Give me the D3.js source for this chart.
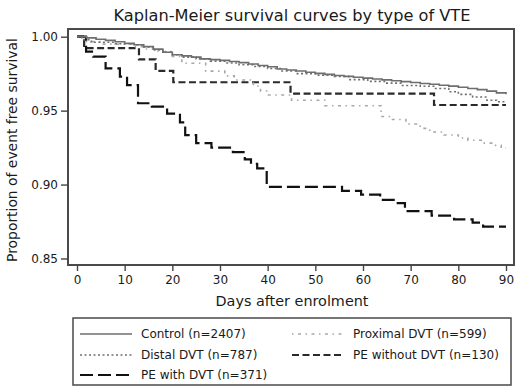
<!DOCTYPE html>
<html><head><meta charset="utf-8">
<script src="https://cdn.jsdelivr.net/npm/d3@7"></script>
<style>
body{margin:0;background:#fff;}
text{font-family:"DejaVu Sans",sans-serif;fill:#1a1a1a;}
</style></head>
<body><svg id="c" width="520" height="392"></svg>
<script>
const title = "Kaplan-Meier survival curves by type of VTE";
const xLabel = "Days after enrolment";
const yLabel = "Proportion of event free survival";
const xTicks = [0,10,20,30,40,50,60,70,80,90];
const yTicks = [0.85,0.90,0.95,1.00];

const controlDays = [0,2,4,6,8,10,12,14,16,18,20,22,24,26,28,30,32,34,36,38,40,42,44,46,48,50,52,54,56,58,60,62,64,66,68,70,72,74,76,78,80,82,84,86,88,90];
const controlSurv = [1,0.9992,0.9983,0.9975,0.9966,0.9955,0.9946,0.9933,0.9916,0.9895,0.9878,0.9870,0.9862,0.9850,0.9845,0.9840,0.9832,0.9825,0.9815,0.9805,0.9797,0.9782,0.9775,0.9768,0.9760,0.9752,0.9745,0.9738,0.9732,0.9726,0.9720,0.9714,0.9708,0.9702,0.9696,0.9690,0.9684,0.9678,0.9672,0.9666,0.9658,0.9650,0.9642,0.9632,0.9620,0.9610];

const distalDays = [0,1,3,8,12,14,16,18,20,22,25,28,31,34,37,40,43,46,50,54,57,61,65,68,72,75,78,80,83,86,88,90];
const distalSurv = [1,0.998,0.9962,0.9952,0.9945,0.993,0.991,0.9895,0.9878,0.9862,0.985,0.9835,0.9822,0.981,0.9798,0.9785,0.9768,0.975,0.974,0.9732,0.971,0.9698,0.9686,0.967,0.9665,0.965,0.9628,0.961,0.9592,0.957,0.956,0.956];

const proxDays = [0,2,5,12,14,17,20,22,27,31,33,37,38.5,39.8,45,52,63.8,66,69,72,74,77,80,82,85,87,89,90];
const proxSurv = [1,0.9967,0.995,0.9933,0.9917,0.99,0.9867,0.982,0.9767,0.9735,0.9707,0.9667,0.9633,0.9606,0.957,0.9533,0.946,0.944,0.941,0.938,0.9355,0.9335,0.9315,0.930,0.928,0.9265,0.9247,0.9247];

const peNoDays = [0,1.5,13,16.5,20.2,44.8,74.9,90];
const peNoSurv = [1,0.9923,0.9846,0.9769,0.9692,0.9615,0.9538,0.9538];

const peDvtDays = [0,1.9,3.4,6.0,9.0,10.5,12.8,15.7,18.9,21.6,22.7,25.0,28.2,32.7,35.2,36.5,37.8,39.8,55.6,59.6,63.6,66.7,68.8,74.4,79.1,83.0,85.2,90];
const peDvtSurv = [1,0.9899,0.9865,0.9786,0.9730,0.9673,0.9550,0.9527,0.9480,0.9420,0.9335,0.9280,0.9250,0.9220,0.9170,0.9140,0.9110,0.8985,0.8958,0.8932,0.8896,0.8875,0.8820,0.8790,0.8765,0.8742,0.8715,0.8715];

const seriesNames = ["Control (n=2407)","Distal DVT (n=787)","PE with DVT (n=371)","Proximal DVT (n=599)","PE without DVT (n=130)"];

const series = [
  {name:seriesNames[0], days:controlDays, surv:controlSurv, color:"#6e6e6e", width:1.6, dash:null, col:0,row:0},
  {name:seriesNames[1], days:distalDays, surv:distalSurv, color:"#707070", width:1.6, dash:"2,2.5", col:0,row:1},
  {name:seriesNames[2], days:peDvtDays, surv:peDvtSurv, color:"#111", width:2.2, dash:"13,5", col:0,row:2},
  {name:seriesNames[3], days:proxDays, surv:proxSurv, color:"#a8a8a8", width:1.6, dash:"1.5,4.5,3,4.5", col:1,row:0},
  {name:seriesNames[4], days:peNoDays, surv:peNoSurv, color:"#2a2a2a", width:2.2, dash:"7,3.5", col:1,row:1}
];

const svg = d3.select("#c");
const plot = {left:68, right:514, top:29, bottom:265};
const x = d3.scaleLinear().domain([0,90]).range([77,506]);
const y = d3.scaleLinear().domain([0.85,1.0]).range([258.5,36.7]);

function fitText(sel, target, base){
  sel.style("font-size", base+"px");
  const w = sel.node().getComputedTextLength();
  sel.style("font-size", (base*target/w).toFixed(2)+"px");
}

const t = svg.append("text").attr("x",292).attr("y",21).attr("text-anchor","middle").text(title);
fitText(t, 357, 15);

const clip = svg.append("clipPath").attr("id","pc").append("rect")
  .attr("x",plot.left).attr("y",plot.top).attr("width",plot.right-plot.left).attr("height",plot.bottom-plot.top);

const line = d3.line().curve(d3.curveStepAfter).x(d=>x(d[0])).y(d=>y(d[1]));
const g = svg.append("g").attr("clip-path","url(#pc)");
series.slice().reverse().forEach(s=>{
  const pts = s.days.map((d,i)=>[d,s.surv[i]]);
  g.append("path").attr("d",line(pts)).attr("fill","none")
    .attr("stroke",s.color).attr("stroke-width",s.width)
    .attr("stroke-dasharray",s.dash);
});

svg.append("rect").attr("x",plot.left).attr("y",plot.top)
  .attr("width",plot.right-plot.left).attr("height",plot.bottom-plot.top)
  .attr("fill","none").attr("stroke","#4a4a4a").attr("stroke-width",2);

const xa = svg.append("g").attr("transform",`translate(0,${plot.bottom})`)
  .call(d3.axisBottom(x).tickValues(xTicks).tickSize(6).tickPadding(4).tickFormat(d3.format("d")));
const ya = svg.append("g").attr("transform",`translate(${plot.left},0)`)
  .call(d3.axisLeft(y).tickValues(yTicks).tickSize(7).tickPadding(3).tickFormat(d3.format(".2f")));
[xa,ya].forEach(a=>{
  a.select(".domain").remove();
  a.selectAll(".tick line").attr("stroke","#444").attr("stroke-width",1.4);
  a.selectAll(".tick text").style("font-size","12px").style("font-family","'DejaVu Sans',sans-serif").attr("fill","#1a1a1a");
});

const xl = svg.append("text").attr("x",292).attr("y",306).attr("text-anchor","middle").text(xLabel);
fitText(xl, 153, 14);
const yl = svg.append("text").attr("transform","translate(17,150) rotate(-90)").attr("text-anchor","middle").text(yLabel);
fitText(yl, 224, 14);

svg.append("rect").attr("x",73).attr("y",318).attr("width",438).attr("height",67)
  .attr("fill","none").attr("stroke","#4a4a4a").attr("stroke-width",1.5);
const colX = [80,292], rowY = [334,355,375];
series.forEach(s=>{
  const lx = colX[s.col], ly = rowY[s.row];
  svg.append("line").attr("x1",lx).attr("x2",lx+52).attr("y1",ly).attr("y2",ly)
    .attr("stroke",s.color).attr("stroke-width",s.width).attr("stroke-dasharray",s.dash);
  svg.append("text").attr("x",lx+61).attr("y",ly).attr("dy","0.36em")
    .style("font-size","12px").text(s.name);
});
</script></body></html>
